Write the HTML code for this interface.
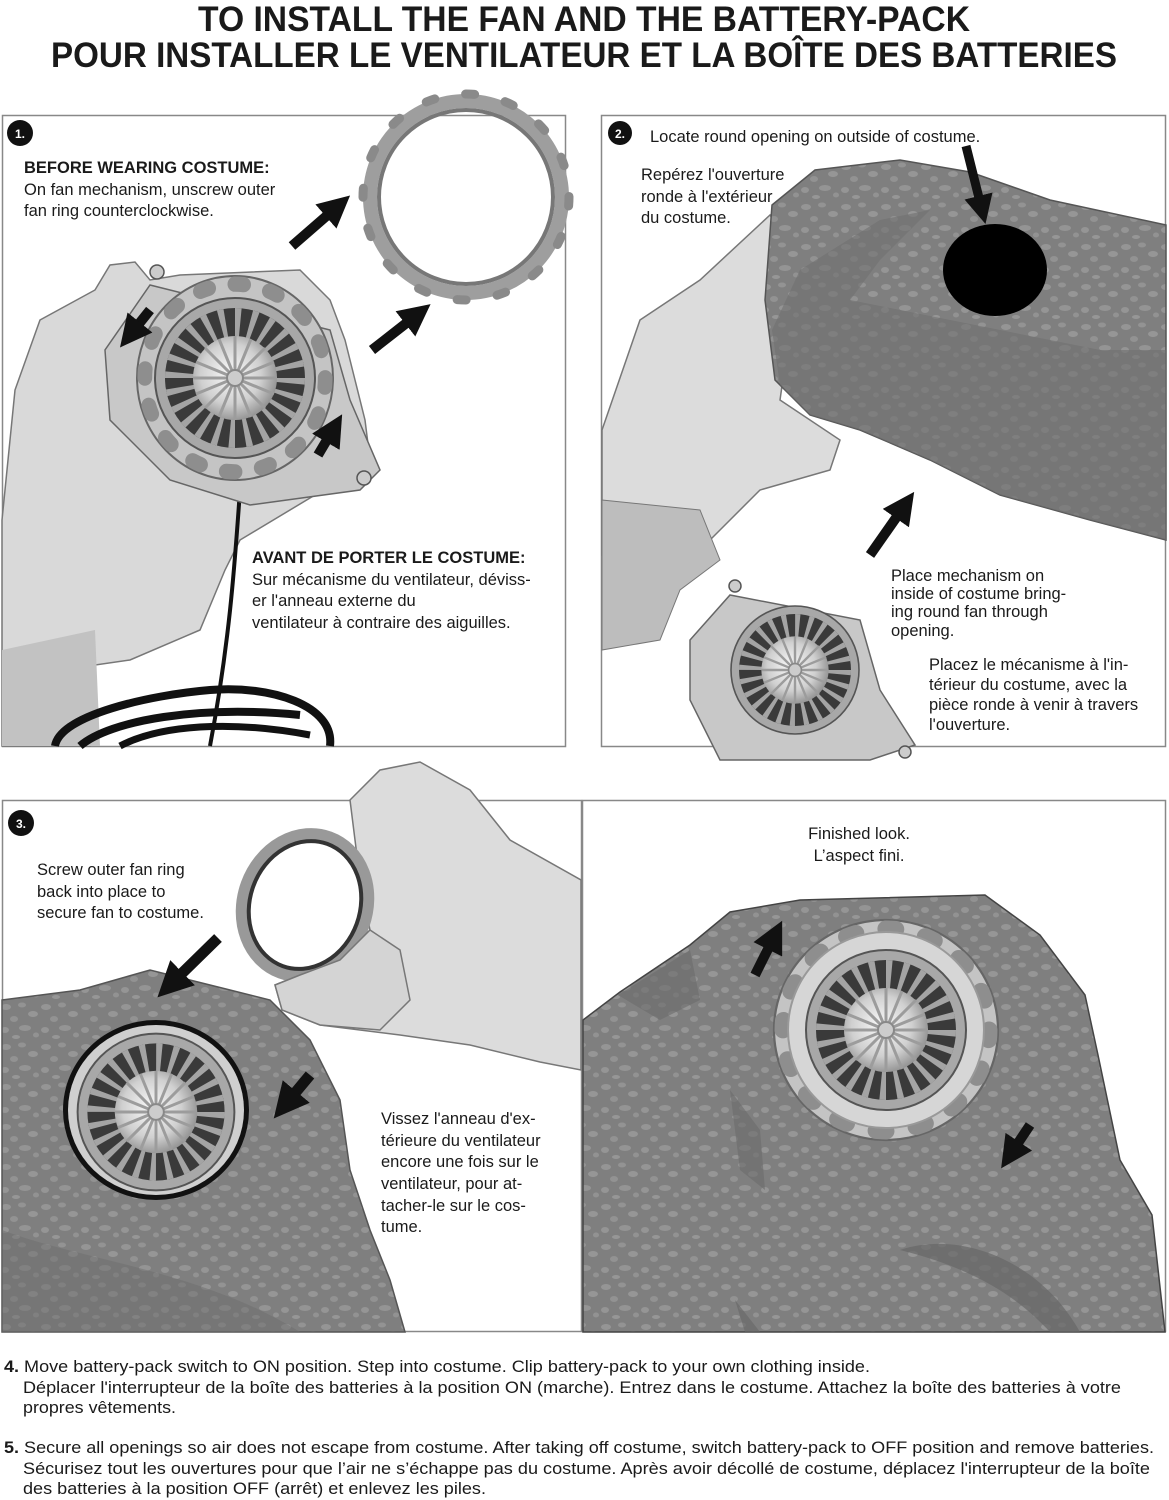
<!DOCTYPE html>
<html><head><meta charset="utf-8"><style>
html,body{margin:0;padding:0;background:#fff}
svg{display:block}
text{font-family:"Liberation Sans",Arial,sans-serif;fill:#1a1a1a}
.t{font-size:16.5px}
.b{font-weight:bold}
</style></head><body>
<svg width="1169" height="1500" viewBox="0 0 1169 1500" xmlns="http://www.w3.org/2000/svg">
<defs>
<pattern id="rock" width="40" height="40" patternUnits="userSpaceOnUse">
<rect width="40" height="40" fill="#7f7f7f"/>
<ellipse cx="6" cy="7" rx="5" ry="3" fill="#959595"/>
<ellipse cx="22" cy="5" rx="4" ry="2.5" fill="#939393"/>
<ellipse cx="33" cy="14" rx="5" ry="3" fill="#969696"/>
<ellipse cx="14" cy="19" rx="4" ry="3" fill="#929292"/>
<ellipse cx="5" cy="30" rx="4" ry="3" fill="#959595"/>
<ellipse cx="25" cy="28" rx="6" ry="3" fill="#949494"/>
<ellipse cx="36" cy="35" rx="3" ry="2.5" fill="#929292"/>
<ellipse cx="16" cy="37" rx="4" ry="2" fill="#969696"/>
</pattern>
<radialGradient id="hub" cx="0.45" cy="0.45" r="0.6">
<stop offset="0" stop-color="#fafafa"/><stop offset="0.6" stop-color="#d0d0d0"/><stop offset="1" stop-color="#8a8a8a"/>
</radialGradient>
<marker id="ah" viewBox="0 0 10 10" refX="5" refY="5" markerWidth="3.2" markerHeight="3.2" orient="auto"><path d="M0,0 L10,5 L0,10 z" fill="#111"/></marker>
<g id="fancore">
<circle r="80" fill="#a8a8a8" stroke="#555" stroke-width="2"/>
<circle r="70" fill="#3a3a3a"/>
<circle r="52" fill="none" stroke="#a4a4a4" stroke-width="36" stroke-dasharray="5 8.6"/>
<circle r="42" fill="url(#hub)"/>
<g stroke="#9c9c9c" stroke-width="3">
<line x1="-42" y1="0" x2="42" y2="0"/><line x1="0" y1="-42" x2="0" y2="42"/>
<line x1="-30" y1="-30" x2="30" y2="30"/><line x1="-30" y1="30" x2="30" y2="-30"/>
<line x1="-39" y1="-16" x2="39" y2="16"/><line x1="-16" y1="-39" x2="16" y2="39"/>
<line x1="-39" y1="16" x2="39" y2="-16"/><line x1="-16" y1="39" x2="16" y2="-39"/>
</g>
<circle r="8" fill="#ccc" stroke="#888" stroke-width="2"/>
</g>
<g id="bumpring">
<circle r="100" fill="#c4c4c4" stroke="#666" stroke-width="2"/>
<circle r="92" fill="none" stroke="#8e8e8e" stroke-width="15" stroke-dasharray="9 27.1" stroke-linecap="round"/>
</g>
</defs>

<text x="584" y="31" text-anchor="middle" class="b" style="font-size:35px" textLength="772" lengthAdjust="spacingAndGlyphs">TO INSTALL THE FAN AND THE BATTERY-PACK</text>
<text x="584" y="67" text-anchor="middle" class="b" style="font-size:35px" textLength="1066" lengthAdjust="spacingAndGlyphs">POUR INSTALLER LE VENTILATEUR ET LA BOÎTE DES BATTERIES</text>

<!-- Panel 1 -->
<rect x="2.5" y="115.5" width="563" height="631" fill="#fff" stroke="#888" stroke-width="1.5"/>
<path d="M2,520 L15,390 L40,320 L95,290 L110,265 L135,262 L150,280 L180,275 L300,270 L330,300 L345,340 L355,380 L365,420 L370,460 L340,480 L240,540 L225,570 L200,630 L130,660 L95,665 L90,746 L2,746 Z" fill="#d9d9d9" stroke="#777" stroke-width="1.5"/>
<path d="M2,650 L95,630 L100,746 L2,746 Z" fill="#c2c2c2"/>
<path d="M240,490 C235,560 230,640 210,746" fill="none" stroke="#111" stroke-width="4"/>
<path d="M55,746 C60,715 150,695 210,690 C270,685 335,705 330,746" fill="none" stroke="#111" stroke-width="8"/>
<path d="M80,746 C110,720 200,705 300,715" fill="none" stroke="#111" stroke-width="8"/>
<path d="M120,746 C160,725 230,720 310,735" fill="none" stroke="#111" stroke-width="7"/>
<path d="M150,285 L330,330 L350,400 L380,470 L360,490 L250,505 L170,480 L110,420 L105,350 Z" fill="#c8c8c8" stroke="#666" stroke-width="1.5"/>
<circle cx="157" cy="272" r="7" fill="#ccc" stroke="#555" stroke-width="1.5"/>
<circle cx="364" cy="478" r="7" fill="#ccc" stroke="#555" stroke-width="1.5"/>
<g transform="translate(235,378) scale(0.98,1.02)"><use href="#bumpring"/></g>
<g transform="translate(235,378)"><use href="#fancore"/></g>
<g transform="translate(466,197)">
<circle r="96" fill="none" stroke="#9e9e9e" stroke-width="14"/>
<circle r="103" fill="none" stroke="#8a8a8a" stroke-width="9" stroke-dasharray="9 31.4" stroke-linecap="round"/>
<circle r="87" fill="none" stroke="#777" stroke-width="4"/>
</g>
<line x1="292" y1="246" x2="338" y2="206" stroke="#111" stroke-width="10" marker-end="url(#ah)"/>
<line x1="372" y1="350" x2="418" y2="314" stroke="#111" stroke-width="10" marker-end="url(#ah)"/>
<line x1="150" y1="310" x2="130" y2="335" stroke="#111" stroke-width="10" marker-end="url(#ah)"/>
<line x1="318" y1="455" x2="334" y2="428" stroke="#111" stroke-width="10" marker-end="url(#ah)"/>
<circle cx="20" cy="133" r="13" fill="#111"/><text x="20" y="138" text-anchor="middle" class="b" style="font-size:12px;fill:#fff">1.</text>
<text x="24" y="173" class="t b">BEFORE WEARING COSTUME:</text>
<text x="24" y="195" class="t">On fan mechanism, unscrew outer</text>
<text x="24" y="216" class="t">fan ring counterclockwise.</text>
<text x="252" y="563" class="t b">AVANT DE PORTER LE COSTUME:</text>
<text x="252" y="585" class="t">Sur mécanisme du ventilateur, déviss-</text>
<text x="252" y="606" class="t">er l'anneau externe du</text>
<text x="252" y="628" class="t">ventilateur à contraire des aiguilles.</text>

<!-- Panel 2 -->
<rect x="601.5" y="115.5" width="564" height="631" fill="#fff" stroke="#888" stroke-width="1.5"/>
<path d="M602,430 L640,320 L700,280 L770,215 L800,260 L780,400 L840,440 L830,470 L760,490 L720,530 L700,550 L602,555 Z" fill="#dcdcdc" stroke="#777" stroke-width="1.5"/>
<path d="M602,500 L700,510 L720,560 L680,590 L660,640 L602,650 Z" fill="#bdbdbd" stroke="#777" stroke-width="1"/>
<path d="M772,205 L815,170 L900,160 L970,172 L1050,200 L1166,225 L1166,540 L1090,520 L1000,495 L930,460 L860,430 L810,415 L775,380 L765,300 Z" fill="url(#rock)" stroke="#555" stroke-width="1.5"/>
<path d="M772,330 L800,270 L880,220 L930,210 L880,260 L850,300 L1000,330 L1100,350 L1166,350 L1166,540 L1090,520 L1000,495 L930,460 L860,430 L810,415 L780,385 Z" fill="#6f6f6f" opacity="0.6"/>
<ellipse cx="995" cy="270" rx="52" ry="46" fill="#000"/>
<line x1="966" y1="146" x2="982" y2="210" stroke="#111" stroke-width="9" marker-end="url(#ah)"/>
<line x1="870" y1="555" x2="905" y2="505" stroke="#111" stroke-width="10" marker-end="url(#ah)"/>
<path d="M730,595 L860,620 L880,690 L915,745 L870,760 L720,760 L690,700 L690,640 Z" fill="#c8c8c8" stroke="#666" stroke-width="1.5"/>
<circle cx="735" cy="586" r="6" fill="#ccc" stroke="#555" stroke-width="1.5"/>
<circle cx="905" cy="752" r="6" fill="#ccc" stroke="#555" stroke-width="1.5"/>
<g transform="translate(795,670) scale(0.8)"><use href="#fancore"/></g>
<circle cx="620" cy="133" r="12" fill="#111"/><text x="620" y="138" text-anchor="middle" class="b" style="font-size:12px;fill:#fff">2.</text>
<text x="650" y="142" class="t">Locate round opening on outside of costume.</text>
<text x="641" y="180" class="t">Repérez l'ouverture</text>
<text x="641" y="202" class="t">ronde à l'extérieur</text>
<text x="641" y="223" class="t">du costume.</text>
<text x="891" y="581" class="t">Place mechanism on</text>
<text x="891" y="599" class="t">inside of costume bring-</text>
<text x="891" y="617" class="t">ing round fan through</text>
<text x="891" y="636" class="t">opening.</text>
<text x="929" y="670" class="t">Placez le mécanisme à l'in-</text>
<text x="929" y="690" class="t">térieur du costume, avec la</text>
<text x="929" y="710" class="t">pièce ronde à venir à travers</text>
<text x="929" y="730" class="t">l'ouverture.</text>

<!-- Panel 3 -->
<rect x="2.5" y="800.5" width="579" height="531" fill="#fff" stroke="#888" stroke-width="1.5"/>
<path d="M2,1000 L80,990 L150,970 L230,990 L270,1000 L310,1040 L340,1100 L350,1170 L370,1230 L390,1280 L405,1332 L2,1332 Z" fill="url(#rock)" stroke="#555" stroke-width="1.5"/>
<path d="M2,1230 C80,1260 200,1270 300,1332 L2,1332 Z" fill="#6e6e6e" opacity="0.5"/>
<ellipse cx="156" cy="1110" rx="93" ry="90" fill="#111"/>
<ellipse cx="156" cy="1110" rx="88" ry="85" fill="#cfcfcf"/>
<g transform="translate(156,1112) scale(0.98)"><use href="#fancore"/></g>
<path d="M350,800 L380,770 L420,762 L470,790 L510,840 L581,880 L581,1070 L540,1062 L470,1045 L400,1035 L320,1025 L282,1010 L275,985 L300,975 L340,960 L370,930 L360,880 Z" fill="#dcdcdc" stroke="#777" stroke-width="1.5"/>
<g transform="translate(305,905) rotate(20)">
<ellipse rx="62" ry="72" fill="none" stroke="#999" stroke-width="12"/>
<ellipse rx="55" ry="65" fill="none" stroke="#333" stroke-width="4"/>
</g>
<path d="M275,985 L300,975 L340,960 L370,930 L400,950 L410,1000 L380,1030 L320,1025 L282,1010 Z" fill="#d4d4d4" stroke="#777" stroke-width="1.5"/>
<line x1="218" y1="938" x2="170" y2="985" stroke="#111" stroke-width="11" marker-end="url(#ah)"/>
<line x1="310" y1="1075" x2="285" y2="1105" stroke="#111" stroke-width="11" marker-end="url(#ah)"/>
<circle cx="21" cy="823" r="13" fill="#111"/><text x="21" y="828" text-anchor="middle" class="b" style="font-size:12px;fill:#fff">3.</text>
<text x="37" y="875" class="t">Screw outer fan ring</text>
<text x="37" y="897" class="t">back into place to</text>
<text x="37" y="918" class="t">secure fan to costume.</text>
<text x="381" y="1124" class="t">Vissez l'anneau d'ex-</text>
<text x="381" y="1146" class="t">térieure du ventilateur</text>
<text x="381" y="1167" class="t">encore une fois sur le</text>
<text x="381" y="1189" class="t">ventilateur, pour at-</text>
<text x="381" y="1211" class="t">tacher-le sur le cos-</text>
<text x="381" y="1232" class="t">tume.</text>

<!-- Panel 4 -->
<rect x="582.5" y="800.5" width="583" height="531" fill="#fff" stroke="#888" stroke-width="1.5"/>
<path d="M583,1020 L620,992 L690,945 L730,912 L800,900 L985,895 L1040,935 L1085,995 L1098,1055 L1120,1160 L1152,1215 L1165,1332 L583,1332 Z" fill="url(#rock)" stroke="#444" stroke-width="1.5"/>
<path d="M618,995 L690,950 L700,1000 L660,1020 Z" fill="#6a6a6a" opacity="0.6"/>
<path d="M730,1090 L760,1130 L765,1190 L740,1170 Z" fill="#6a6a6a" opacity="0.6"/>
<path d="M900,1250 C960,1230 1040,1260 1080,1332 L1050,1332 C1020,1300 980,1270 900,1250 Z" fill="#666" opacity="0.7"/>
<path d="M735,1300 L760,1332 L745,1332 Z" fill="#666" opacity="0.6"/>
<g transform="translate(886,1030) scale(1.12,1.1)"><use href="#bumpring"/></g>
<circle cx="886" cy="1030" r="98" fill="#d6d6d6" stroke="#999" stroke-width="2"/>
<g transform="translate(886,1030)"><use href="#fancore"/></g>
<line x1="755" y1="975" x2="775" y2="935" stroke="#111" stroke-width="10" marker-end="url(#ah)"/>
<line x1="1030" y1="1125" x2="1010" y2="1155" stroke="#111" stroke-width="10" marker-end="url(#ah)"/>
<text x="859" y="839" text-anchor="middle" class="t">Finished look.</text>
<text x="859" y="861" text-anchor="middle" class="t">L’aspect fini.</text>

<text x="4" y="1372" class="t" textLength="866" lengthAdjust="spacingAndGlyphs"><tspan class="b">4.</tspan> Move battery-pack switch to ON position. Step into costume. Clip battery-pack to your own clothing inside.</text>
<text x="23" y="1393" class="t" textLength="1098" lengthAdjust="spacingAndGlyphs">Déplacer l'interrupteur de la boîte des batteries à la position ON (marche). Entrez dans le costume. Attachez la boîte des batteries à votre</text>
<text x="23" y="1413" class="t" textLength="153" lengthAdjust="spacingAndGlyphs">propres vêtements.</text>
<text x="4" y="1453" class="t" textLength="1150" lengthAdjust="spacingAndGlyphs"><tspan class="b">5.</tspan> Secure all openings so air does not escape from costume. After taking off costume, switch battery-pack to OFF position and remove batteries.</text>
<text x="23" y="1474" class="t" textLength="1127" lengthAdjust="spacingAndGlyphs">Sécurisez tout les ouvertures pour que l’air ne s’échappe pas du costume. Après avoir décollé de costume, déplacez l'interrupteur de la boîte</text>
<text x="23" y="1494" class="t" textLength="463" lengthAdjust="spacingAndGlyphs">des batteries à la position OFF (arrêt) et enlevez les piles.</text>
</svg>
</body></html>
